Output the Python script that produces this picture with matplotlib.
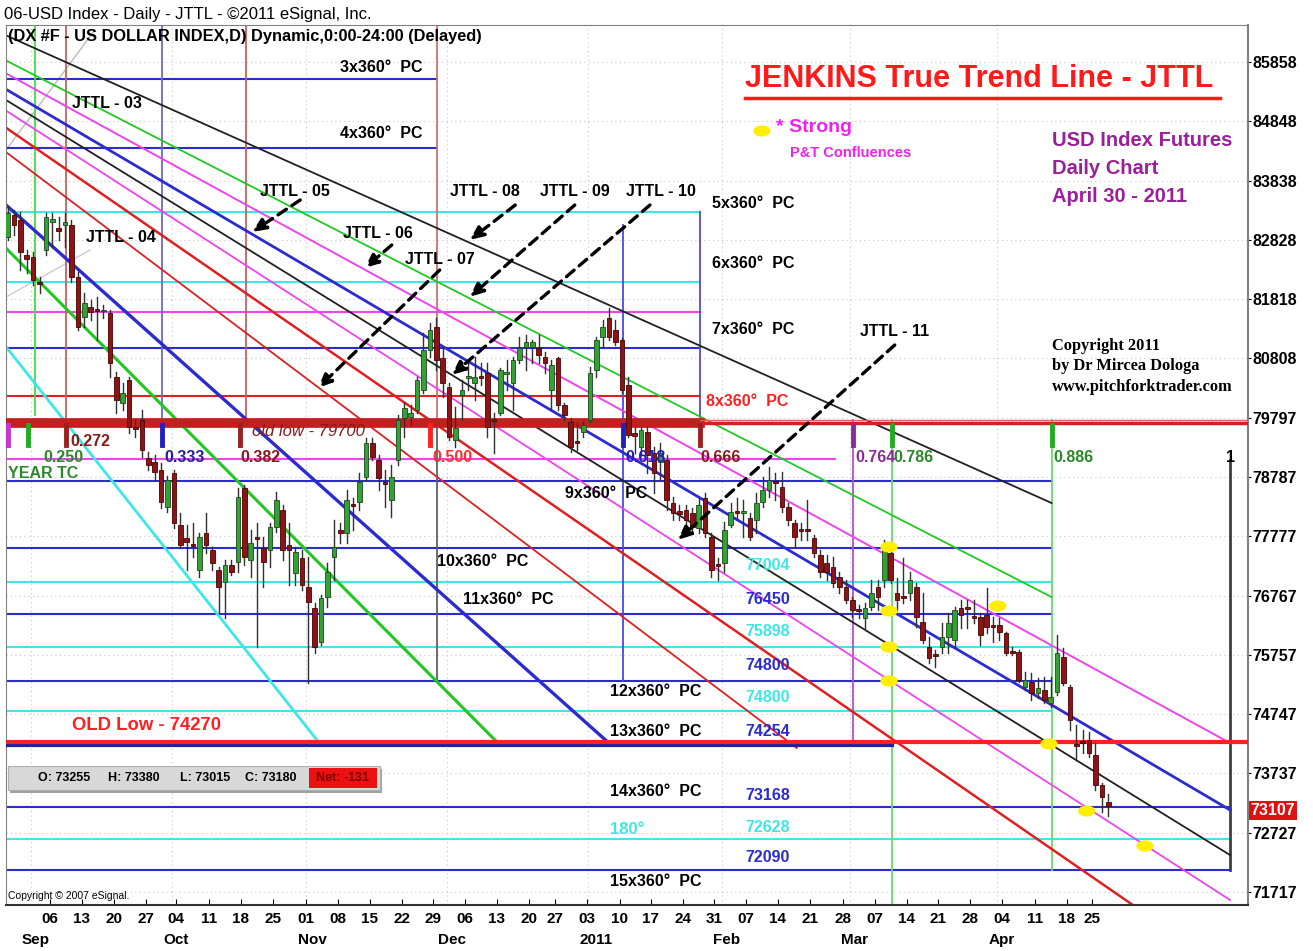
import numpy as np
import matplotlib.pyplot as plt
from matplotlib.patches import Rectangle, Ellipse
from matplotlib.lines import Line2D

plt.rcParams['font.family'] = ['Liberation Sans', 'DejaVu Sans']

W, H = 1313, 951

# ---------------------------------------------------------------- data
# x = trading-day index (0 = Mon 06 Sep 2010), y = price (index x 1000)
day_ticks = [0, 5, 10, 15, 19.7, 24.8, 29.8, 34.8, 40, 45, 50, 55, 59.8, 64.8, 69.8, 74.8,
             78.9, 83.9, 89, 93.9, 98.9, 103.75, 108.75, 113.75, 118.75, 123.9, 128.9,
             133.9, 138.75, 143.75, 148.75, 153.9, 158.9, 162.8]
day_labels = ['06', '13', '20', '27', '04', '11', '18', '25', '01', '08', '15', '22', '29',
              '06', '13', '20', '27', '03', '10', '17', '24', '31', '07', '14', '21', '28',
              '07', '14', '21', '28', '04', '11', '18', '25']
month_labels = ['Sep', 'Oct', 'Nov', 'Dec', '2011', 'Feb', 'Mar', 'Apr']
month_px = [36, 176, 312, 452, 596, 727, 855, 1002]
price_ticks = [85858, 84848, 83838, 82828, 81818, 80808, 79797, 78787, 77777, 76767,
               75757, 74747, 73737, 72727, 71717]

# daily candles, first bar 27 Aug 2010
first_day = -6.64
opens = [82877, 83252, 83166, 82570, 82536, 82110, 82655, 83132, 83030, 83081,
         83081, 82195, 81514, 81684, 81650, 81616, 81582, 80491, 80048, 80440,
         79640, 79759, 79112, 79043, 78907, 78277, 78856, 77970, 77749, 77646,
         77203, 77834, 77544, 77203, 76999, 77288, 77340, 78600, 77374, 77766,
         77578, 77544, 77936, 78226, 77629, 77152, 77408, 76914, 76556, 75977,
         76743, 77425, 77885, 77834, 78328, 78362, 78788, 79367, 79077, 78703,
         78396, 79077, 79793, 79810, 79929, 80270, 80951, 81343, 80815, 80321,
         79418, 80184, 80474, 80389, 80508, 80559, 79776, 79878, 80542, 80389,
         80781, 81002, 81002, 80985, 80832, 80270, 80815, 80014, 79725, 79401,
         79554, 79759, 80610, 81173, 81497, 81292, 81122, 80355, 79537, 79299,
         79554, 79197, 79043, 79077, 78345, 78209, 78226, 78175, 77919, 78430,
         77766, 77306, 77323, 77970, 78209, 78175, 78089, 78055, 78362, 78566,
         78720, 78617, 78277, 78004, 77902, 77902, 77749, 77459, 77323, 77254,
         77084, 76914, 76692, 76539, 76385, 76573, 76914, 77033, 77493, 76812,
         76760, 76812, 76914, 76317, 75891, 75772, 75891, 76062, 76011, 76556,
         76573, 76420, 76403, 76437, 76266, 76266, 76130, 75823, 75806, 75210,
         75295, 75108, 75159, 74937, 75125, 75721, 75210, 74239, 74290, 74307,
         74051, 73540, 73255]
highs = [83388, 83337, 83303, 82655, 82621, 82195, 83286, 83286, 83217, 83286,
         83166, 82280, 81922, 81803, 81854, 81718, 81633, 80576, 80389, 80491,
         79759, 79929, 79214, 79163, 79026, 78805, 78907, 78175, 77970, 78004,
         77834, 78175, 77595, 77254, 77374, 77374, 78600, 78652, 77885, 78004,
         77766, 78004, 78531, 78311, 78004, 77595, 77544, 77425, 76641, 76777,
         77323, 78055, 78004, 78566, 78430, 78856, 79452, 79452, 79163, 78907,
         78992, 79844, 80048, 80014, 80491, 81241, 81411, 81497, 81002, 80389,
         79980, 80440, 80730, 80832, 80730, 80730, 79878, 80645, 80781, 80832,
         81173, 81207, 81122, 81207, 80917, 80781, 80832, 80048, 79793, 79708,
         79725, 80662, 81173, 81462, 81667, 81462, 81156, 80491, 79640, 79640,
         79640, 79299, 79367, 79163, 78447, 78311, 78311, 78260, 78430, 78515,
         77834, 77408, 78021, 78345, 78430, 78396, 78175, 78515, 78788, 78958,
         78856, 78873, 78345, 78055, 78004, 78396, 77800, 77544, 77459, 77425,
         77169, 77033, 76743, 76607, 76641, 77033, 77033, 77714, 77544, 77067,
         77408, 77169, 76982, 76812, 76062, 75840, 76300, 76471, 76573, 76692,
         76692, 76692, 76471, 76895, 76403, 76385, 76147, 75891, 75840, 75466,
         75448, 75363, 75380, 75380, 76096, 75874, 75244, 74562, 74477, 74443,
         74256, 73574, 73380]
lows = [82825, 82911, 82314, 82263, 82058, 81922, 82570, 82706, 82825, 82706,
        82110, 81292, 81343, 81462, 81122, 81497, 80491, 79878, 79929, 79537,
        79469, 79129, 78907, 78737, 78260, 78192, 77919, 77578, 77203, 77425,
        77084, 77493, 77203, 76471, 76385, 77118, 77169, 77288, 77084, 75891,
        76914, 77254, 77851, 77374, 76948, 76948, 76863, 75278, 75789, 75925,
        76573, 77033, 77663, 77663, 77885, 78226, 78737, 79077, 78566, 78277,
        78106, 78992, 79469, 79674, 79878, 80218, 80832, 80610, 80150, 79418,
        79299, 79759, 80270, 80099, 80355, 79469, 79197, 79844, 80270, 79929,
        80730, 80610, 80730, 80730, 80559, 79929, 79929, 79759, 79214, 79248,
        79469, 79725, 80491, 81002, 81122, 81036, 80218, 79469, 79197, 79163,
        78856, 78515, 78737, 78226, 78055, 78055, 77936, 77834, 77834, 77766,
        77084, 77033, 77169, 77936, 78089, 77766, 77714, 77834, 78277, 78447,
        78396, 78192, 77970, 77595, 77714, 77714, 77425, 77084, 77033, 76914,
        76812, 76641, 76403, 76385, 76181, 76522, 76522, 76914, 76982, 76522,
        76641, 76692, 76232, 75960, 75619, 75551, 75789, 75789, 75891, 76215,
        76215, 76300, 75925, 76130, 75977, 76011, 75755, 75755, 75295, 75159,
        74988, 75023, 74937, 74869, 75074, 75244, 74477, 73966, 74085, 74017,
        73455, 73080, 73015]
closes = [83286, 83081, 82621, 82502, 82144, 82076, 83217, 83183, 82979, 83132,
          82195, 81343, 81752, 81599, 81616, 81633, 80730, 80099, 80218, 79640,
          79606, 79248, 78992, 78873, 78362, 78737, 78004, 77629, 77680, 77612,
          77766, 77629, 77323, 76914, 77288, 77169, 78447, 77425, 77663, 77732,
          77340, 77936, 78396, 77544, 77544, 77510, 76948, 76658, 75891, 76726,
          77169, 77595, 77834, 78396, 78294, 78703, 79367, 79129, 78771, 78669,
          78788, 79759, 79963, 79878, 80440, 80951, 81292, 80781, 80389, 79469,
          79623, 80270, 80508, 80491, 80474, 79640, 79742, 80610, 80576, 80781,
          80985, 81088, 81088, 80866, 80730, 80696, 80014, 79844, 79299, 79367,
          79674, 80559, 81122, 81343, 81173, 81088, 80270, 79503, 79486, 79588,
          79163, 78856, 79197, 78396, 78175, 78158, 78055, 77936, 78311, 77834,
          77203, 77271, 77885, 78192, 78175, 78209, 77766, 78345, 78566, 78737,
          78686, 78277, 78055, 77766, 77868, 77868, 77493, 77169, 77169, 76982,
          76914, 76692, 76522, 76505, 76556, 76812, 76743, 77595, 77033, 76692,
          76726, 77033, 76403, 76011, 75704, 75738, 76062, 76300, 76522, 76437,
          76539, 76385, 76096, 76232, 76232, 76147, 75789, 75789, 75329, 75329,
          75108, 75193, 74988, 75040, 75789, 75278, 74648, 74205, 74256, 74085,
          73540, 73336, 73180]

# horizontal "x360 PC" levels: price, end day, colour
level_price = [85568, 84393, 83302, 82110, 81599, 80985, 80168, 79094, 78719, 77578,
               77004, 76450, 75898, 75312, 74800, 73168, 72628, 72090]
level_end = [60.5, 60.5, 101.6, 101.6, 101.6, 101.6, 101.6, 122.7, 156.6, 156.6,
             156.6, 156.6, 156.6, 156.6, 156.6, 184.4, 184.4, 184.4]
level_col = ['b', 'b', 'c', 'c', 'm', 'b', 'r', 'm', 'b', 'b',
             'c', 'b', 'c', 'b', 'c', 'b', 'c', 'b']
old_low_1 = 79700
old_low_2 = 74270

# JTTL fan: common anchor, end point of every line
fan_anchor = (-66.4, 89214)
fan_end_day = [156.5, 156.5, 184.4, 184.4, 184.4, 184.4, 169.2, 116.7, 87.5, 70.3, 42.2]
fan_end_px = [78345, 76743, 74255, 73114, 72347, 71581, 71496, 74170, 74239, 74222, 74239]
fan_col = ['k', 'g', 'm', 'b', 'k', 'm', 'r', 'r', 'b', 'g', 'c']
fan_lw = [1.3, 1.3, 1.4, 2.0, 1.3, 1.3, 1.8, 1.3, 2.4, 2.2, 2.0]

# time-cycle verticals: day, top price, bottom price, colour
vert_day = [-2.3, 2.5, 17.5, 30.6, 60.5, 60.5, 89.5, 101.6, 125.5, 131.6, 156.6, 184.4]
vert_top = [86488, 86488, 86488, 86488, 86488, 79759, 83080, 83302, 79759, 79759, 79759, 79077]
vert_bot = [79844, 79759, 79673, 79759, 79759, 75329, 75312, 79759, 74270, 71496, 72090, 72090]
vert_col = ['#44dd44', '#c86060', '#6a6ad0', '#c86060', '#d07070', '#606060', '#4a4ae0',
            '#4a4ae0', '#b050d0', '#66dd66', '#66dd66', '#404040']

stub_day = [-6.56, -3.44, 2.5, 17.5, 29.7, 59.4, 89.5, 101.6, 125.5, 131.6, 156.6]
stub_col = ['#cc33cc', '#22aa22', '#9b2020', '#2020c0', '#9b2020', '#ff2020', '#2020c0',
            '#9b2020', '#8b2a9b', '#22aa22', '#22aa22']

# confluence markers
conf_day = [131.1, 131.1, 131.1, 131.1, 148.1, 156.1, 162.0, 171.1, 111.25]
conf_px = [77595, 76505, 75891, 75312, 76590, 74239, 73097, 72501, 84682]

# dashed JTTL pointers: (start day, start price) -> (end day, end price)
arrow_from = [(39.1, 83507), (53.4, 82740), (60.9, 82314), (72.7, 83421), (82.0, 83421),
              (93.75, 83421), (132.0, 81036)]
arrow_to = [(31.6, 82961), (49.2, 82348), (41.9, 80304), (65.6, 82825), (65.6, 81854),
            (62.8, 80525), (98.1, 77714)]

# ---------------------------------------------------------------- figure
COL = {'b': '#2b2bd0', 'c': '#3ee6e6', 'm': '#ee44ee', 'r': '#e02020', 'k': '#202020',
       'g': '#22c822'}

fig = plt.figure(figsize=(W / 100, H / 100), dpi=100)
ax = fig.add_axes([6 / W, 1 - 905 / H, 1242 / W, 880 / H])
x0, x1 = -6.875, 187.2
ax.set_xlim(x0, x1)
ax.set_ylim(71496, 86488)


def put(px, py, s, **kw):
    kw.setdefault('va', 'center')
    fig.text(px / W, 1 - py / H, s, **kw)


# grid
for p in price_ticks:
    ax.axhline(p, color='#c8c8c8', lw=0.8, ls=(0, (1, 3)), zorder=0)
for d in [-3, 19, 40, 62, 84, 105, 125, 148]:
    ax.axvline(d, color='#c8c8c8', lw=0.8, ls=(0, (1, 3)), zorder=0)

# levels
for p, e, c in zip(level_price, level_end, level_col):
    ax.plot([x0, e], [p, p], color=COL[c], lw=1.5, zorder=2)
ax.plot([x0, 101.6], [old_low_1, old_low_1], color='#c41e1e', lw=7, zorder=3)
ax.plot([101.6, x1], [old_low_1, old_low_1], color='#d42020', lw=2.5, zorder=3)
ax.plot([101.6, x1], [old_low_1 + 60, old_low_1 + 60], color='#e06060', lw=1, zorder=3)
ax.plot([x0, 131.6], [old_low_2 - 50, old_low_2 - 50], color='#2020a0', lw=3, zorder=3)
ax.plot([x0, x1], [old_low_2, old_low_2], color='#ff2020', lw=3, zorder=3)

# verticals
for d, t, b, c in zip(vert_day, vert_top, vert_bot, vert_col):
    ax.plot([d, d], [t, b], color=c, lw=2 if c == '#404040' else 1.3, zorder=2)
for d, c in zip(stub_day, stub_col):
    ax.plot([d, d], [79673, 79333], color=c, lw=3.5, zorder=4)

# fan lines
for e, p, c, lw in zip(fan_end_day, fan_end_px, fan_col, fan_lw):
    ax.plot([fan_anchor[0], e], [fan_anchor[1], p], color=COL[c], lw=lw, zorder=2)
ax.plot([-6.875, 7.0], [84358, 86403], color='#bbbbbb', lw=1, zorder=1)
ax.plot([-6.875, 6.25], [81854, 82654], color='#cccccc', lw=1, zorder=1)

# candles
days = first_day + np.arange(len(closes))
for d, o, h, l, c in zip(days, opens, highs, lows, closes):
    ax.plot([d, d], [l, h], color='#303030', lw=1.0, zorder=5)
    up = c >= o
    ax.add_patch(Rectangle((d - 0.36, min(o, c)), 0.72, max(abs(c - o), 25),
                           facecolor='#35a035' if up else '#8b1515',
                           edgecolor='#1a4a1a' if up else '#4a0000', lw=0.6, zorder=6))

# dashed JTTL pointers
for (sx, sy), (ex, ey) in zip(arrow_from, arrow_to):
    ax.annotate('', xy=(ex, ey), xytext=(sx, sy),
                arrowprops=dict(arrowstyle='-|>,head_length=0.8,head_width=0.35', color='k',
                                lw=2.4, ls=(0, (3, 2)), shrinkA=0, shrinkB=0), zorder=7)

# confluence ellipses
for d, p in zip(conf_day, conf_px):
    ax.add_patch(Ellipse((d, p), 2.7, 190, facecolor='#ffee00', edgecolor='none', zorder=8))

# axes look
ax.yaxis.tick_right()
ax.set_yticks(price_ticks)
ax.set_yticklabels([str(p) for p in price_ticks], fontsize=11.5, fontweight='bold')
ax.set_xticks(day_ticks)
ax.set_xticklabels(day_labels, fontsize=11, fontweight='bold')
ax.tick_params(axis='x', direction='in', length=4, pad=5)
ax.tick_params(axis='y', direction='out', length=2, pad=1)
for s in ['top', 'left', 'right']:
    ax.spines[s].set_color('#808080')
ax.spines['right'].set_linewidth(1.5)
ax.spines['bottom'].set_color('#303030')
ax.spines['bottom'].set_linewidth(1.5)

ax.text(1.002, 73107, '73107', transform=ax.get_yaxis_transform(), fontsize=11.5,
        fontweight='bold', color='white', va='center', ha='left',
        bbox=dict(boxstyle='square,pad=0.1', fc='#e01010', ec='none'))

for m, px in zip(month_labels, month_px):
    put(px, 940, m, fontsize=11, fontweight='bold', ha='center')

# ---------------------------------------------------------------- texts
put(4, 14, '06-USD Index - Daily - JTTL - \u00a92011 eSignal, Inc.', fontsize=12)
put(8, 37, '(DX #F - US DOLLAR INDEX,D) Dynamic,0:00-24:00 (Delayed)', fontsize=11.8,
    fontweight='bold')
put(745, 79, 'JENKINS True Trend Line - JTTL', fontsize=22, fontweight='bold', color='#ff1a1a')
fig.add_artist(Line2D([745 / W, 1220 / W], [1 - 98 / H, 1 - 98 / H], color='#ff1a1a', lw=2.5))
put(776, 128, '* Strong', fontsize=14, fontweight='bold', color='#ee22ee')
put(790, 153, 'P&T Confluences', fontsize=10.5, fontweight='bold', color='#ee22ee')
for i, s in enumerate(['USD Index Futures', 'Daily Chart', 'April 30 - 2011']):
    put(1052, 141 + 28 * i, s, fontsize=14.5, fontweight='bold', color='#9b1f9b')
for i, s in enumerate(['Copyright 2011', 'by Dr Mircea Dologa', 'www.pitchforktrader.com']):
    put(1052, 346 + 20.5 * i, s, fontsize=11.8, fontweight='bold', family='Liberation Serif')

pc = [('3x360\u00b0  PC', 340, 68), ('4x360\u00b0  PC', 340, 133), ('5x360\u00b0  PC', 712, 203),
      ('6x360\u00b0  PC', 712, 264), ('7x360\u00b0  PC', 712, 329), ('9x360\u00b0  PC', 565, 493),
      ('10x360\u00b0  PC', 437, 562), ('11x360\u00b0  PC', 463, 600),
      ('12x360\u00b0  PC', 610, 691), ('13x360\u00b0  PC', 610, 731),
      ('14x360\u00b0  PC', 610, 792), ('15x360\u00b0  PC', 610, 882)]
for s, px, py in pc:
    put(px, py, s, fontsize=11.5, fontweight='bold')
put(706, 402, '8x360\u00b0  PC', fontsize=11.5, fontweight='bold', color='#ff2020')
put(610, 830, '180\u00b0', fontsize=12, fontweight='bold', color='#3ee6e6')

lv = [('77004', 566, 'c'), ('76450', 599, 'b'), ('75898', 632, 'c'), ('74800', 665, 'b'),
      ('74800', 698, 'c'), ('74254', 732, 'b'), ('73168', 795, 'b'), ('72628', 828, 'c'),
      ('72090', 857, 'b')]
for s, py, c in lv:
    put(745, py, s, fontsize=11.5, fontweight='bold', color=COL[c])

jt = [('JTTL - 03', 72, 103), ('JTTL - 04', 86, 238), ('JTTL - 05', 260, 192),
      ('JTTL - 06', 343, 234), ('JTTL - 07', 405, 259), ('JTTL - 08', 450, 191),
      ('JTTL - 09', 540, 191), ('JTTL - 10', 626, 191), ('JTTL - 11', 860, 331)]
for s, px, py in jt:
    put(px, py, s, fontsize=11.5, fontweight='bold')

fib = [('0.250', 43, 457, '#2a8a2a'), ('YEAR TC', 8, 473, '#2a8a2a'), ('0.272', 70, 441, '#8b1a1a'),
       ('0.333', 164, 457, '#2020a0'), ('0.382', 240, 457, '#8b1a1a'), ('0.500', 432, 457, '#ff3030'),
       ('0.618', 625, 457, '#2020c0'), ('0.666', 700, 457, '#8b1a1a'), ('0.764', 855, 457, '#8b2a9b'),
       ('0.786', 893, 457, '#2a8a2a'), ('0.886', 1053, 457, '#2a8a2a'), ('1', 1226, 457, 'k')]
for s, px, py, c in fib:
    put(px, py, s, fontsize=11.5, fontweight='bold', color=c)
put(252, 431, 'old low - 79700', fontsize=12, style='italic', color='#8b1a1a')
put(72, 725, 'OLD Low - 74270', fontsize=13.3, fontweight='bold', color='#ff2020')

# OHLC box
fig.add_artist(Rectangle((10 / W, 1 - 793 / H), 372 / W, 24 / H, transform=fig.transFigure,
                         fc='#a0a0a0', ec='none'))
fig.add_artist(Rectangle((8 / W, 1 - 790 / H), 372 / W, 24 / H, transform=fig.transFigure,
                         fc='#d8d8d8', ec='#b0b0b0', lw=0.8))
fig.add_artist(Rectangle((309 / W, 1 - 788 / H), 68 / W, 20 / H, transform=fig.transFigure,
                         fc='#ee1111', ec='none'))
for s, px in [('O: 73255', 38), ('H: 73380', 108), ('L: 73015', 180), ('C: 73180', 245)]:
    put(px, 778, s, fontsize=9, fontweight='bold')
put(316, 778, 'Net: -131', fontsize=9, fontweight='bold', color='#7a0000')
put(8, 896, 'Copyright \u00a9 2007 eSignal.', fontsize=7.5)

fig.savefig('out.png', dpi=100)
